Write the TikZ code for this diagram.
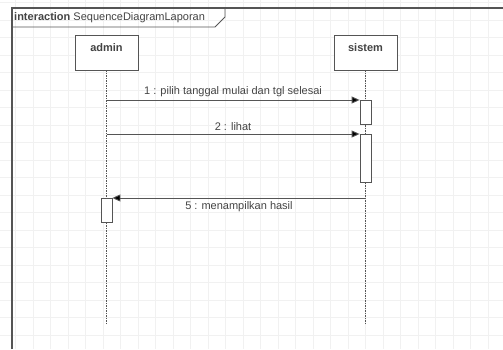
\documentclass[tikz,border=0pt]{standalone}
\usepackage{fontspec}
\setmainfont{Liberation Sans}
\usetikzlibrary{arrows.meta}
\definecolor{gridc}{HTML}{F1F1F1}
\definecolor{linec}{HTML}{555555}
\definecolor{txtc}{HTML}{444444}
\tikzset{
  lifebox/.style={draw=linec, line width=0.9pt, fill=white, minimum width=63pt, minimum height=35pt, inner sep=0pt},
  actbox/.style={draw=linec, line width=0.8pt, fill=white, minimum width=11pt, inner sep=0pt},
  lifeline/.style={draw=linec, line width=0.8pt, dash pattern=on 1.5pt off 1pt},
  msg/.style={draw=linec, line width=0.9pt, -{Triangle[length=8pt,width=7pt,fill=black]}},
  msglabel/.style={text=txtc, font=\fontsize{11}{13}\selectfont, inner sep=1pt},
}
\begin{document}
\begin{tikzpicture}[x=1pt,y=-1pt]
\useasboundingbox (0,0) rectangle (503,349);
\fill[white] (0,0) rectangle (503,349);
% grid
\foreach \gx in {15.5,33,...,503} \draw[gridc, line width=0.6pt] (\gx,0) -- (\gx,349);
\foreach \gy in {2.5,20,...,349} \draw[gridc, line width=0.6pt] (0,\gy) -- (503,\gy);
% frame
\draw[linec, line width=1.1pt] (12,349) -- (12,8) -- (503,8);
\draw[linec, line width=0.8pt] (12,27) -- (215,27) -- (225,17) -- (225,8);
\node[anchor=west, text=txtc, font=\fontsize{11}{13}\selectfont, inner sep=0pt] (title) at (14,17.5) {\textbf{interaction} SequenceDiagramLaporan};
% lifelines
\node[lifebox] (admin) at (106.5,52.5) {};
\node[font=\bfseries\fontsize{11}{13}\selectfont, text=txtc] (adminlbl) at (106.5,48) {admin};
\node[lifebox] (sistem) at (365.5,52.5) {};
\node[font=\bfseries\fontsize{11}{13}\selectfont, text=txtc] (sistemlbl) at (365.5,48) {sistem};
\coordinate (aend) at (106.5,325);
\coordinate (send) at (365.5,325);
\draw[lifeline] (admin.south) -- (aend);
\draw[lifeline] (sistem.south) -- (send);
% activations
\node[actbox, minimum height=24pt, anchor=north] (s1) at (365.5,100) {};
\node[actbox, minimum height=48pt, anchor=north] (s2) at (365.5,134) {};
\node[actbox, minimum height=24pt, anchor=north] (a1) at (106.5,198) {};
% messages
\coordinate (m1s) at (106.5,100);
\coordinate (m2s) at (106.5,134);
\coordinate (m3s) at (365.5,198);
\draw[msg] (m1s) -- (s1.north west) node[msglabel, midway, above=2pt] {1 : pilih tanggal mulai dan tgl selesai};
\draw[msg] (m2s) -- (s2.north west) node[msglabel, midway, above=2pt] {2 : lihat};
\draw[msg] (m3s) -- (a1.north east) node[msglabel, midway, below=2pt] {5 : menampilkan hasil};
\end{tikzpicture}
\end{document}
